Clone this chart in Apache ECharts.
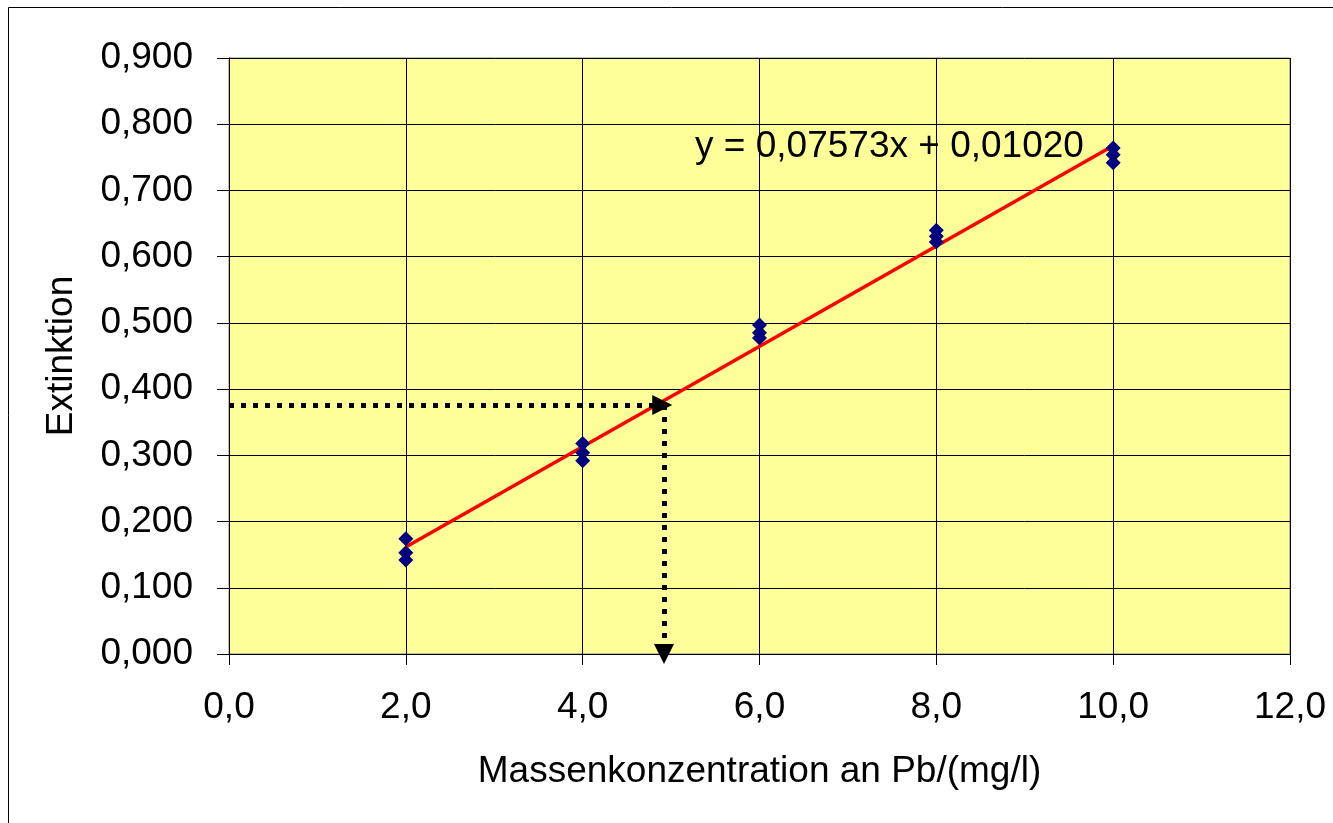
<!DOCTYPE html>
<html>
<head>
<meta charset="utf-8">
<script src="https://cdn.jsdelivr.net/npm/echarts@6/dist/echarts.min.js"></script>
<style>
  html, body { margin: 0; padding: 0; background: #fff; }
  #chart { width: 1333px; height: 823px; }
</style>
</head>
<body>
<div id="chart"></div>
<script>
// measured points (three replicates per concentration)
const concX = [2, 2, 2, 4, 4, 4, 6, 6, 6, 8, 8, 8, 10, 10, 10]
const extY = [0.174, 0.153, 0.142, 0.318, 0.304, 0.292, 0.497, 0.485, 0.477, 0.640, 0.631, 0.622, 0.764, 0.754, 0.742]

// linear trend line y = 0,07573x + 0,01020
const trendX = [2, 10]
const trendY = [0.1617, 0.7675]
const trendLabel = 'y = 0,07573x + 0,01020'

// reading of an unknown sample
const sampleY = 0.376
const sampleX = 4.92

const chart = echarts.init(document.getElementById('chart'))

const fmt = (v, d) => v.toFixed(d).replace('.', ',')
const font = '"Liberation Sans", Arial, sans-serif'
const fs = 37

const option = {
  animation: false,
  textStyle: { fontFamily: font },
  graphic: [{
    type: 'rect',
    shape: { x: 8.5, y: 7.5, width: 1400, height: 900 },
    style: { fill: 'none', stroke: '#000', lineWidth: 1 },
    z: -10
  }],
  grid: {
    left: 229, top: 58, right: 43, bottom: 169,
    show: true,
    backgroundColor: '#FFFF99',
    borderColor: '#808080',
    borderWidth: 1
  },
  xAxis: {
    type: 'value',
    min: 0, max: 12, interval: 2,
    name: 'Massenkonzentration an Pb/(mg/l)',
    nameLocation: 'middle',
    nameGap: 99,
    nameTextStyle: { fontSize: fs, color: '#000', fontFamily: font },
    axisLine: { show: true, onZero: false, lineStyle: { color: '#000', width: 1 } },
    axisTick: { show: true, length: 11, lineStyle: { color: '#000' } },
    axisLabel: { fontSize: fs, color: '#000', margin: 35, formatter: v => fmt(v, 1) },
    splitLine: { show: true, lineStyle: { color: '#000', width: 1 } }
  },
  yAxis: {
    type: 'value',
    min: 0, max: 0.9, interval: 0.1,
    name: 'Extinktion',
    nameLocation: 'middle',
    nameGap: 149,
    nameTextStyle: { fontSize: fs, color: '#000', fontFamily: font },
    axisLine: { show: true, lineStyle: { color: '#000', width: 1 } },
    axisTick: { show: true, length: 12, lineStyle: { color: '#000' } },
    axisLabel: { fontSize: fs, color: '#000', margin: 36, formatter: v => fmt(v, 3) },
    splitLine: { show: true, lineStyle: { color: '#000', width: 1 } }
  },
  series: [
    {
      name: 'Trend',
      type: 'line',
      data: trendX.map((x, i) => [x, trendY[i]]),
      symbol: 'none',
      lineStyle: { color: '#FF0000', width: 3.5 },
      z: 3,
      markLine: {
        silent: true,
        symbol: ['none', 'triangle'],
        symbolSize: [20, 20],
        label: { show: false },
        lineStyle: { color: '#000', width: 5, type: [5, 7] },
        data: [
          [{ coord: [0, sampleY] }, { coord: [sampleX - 0.02, sampleY] }],
          [{ coord: [sampleX, sampleY] }, { coord: [sampleX, 0] }]
        ]
      }
    },
    {
      name: 'Messwerte',
      type: 'scatter',
      data: concX.map((x, i) => [x, extY[i]]),
      symbol: 'diamond',
      symbolSize: 15,
      itemStyle: { color: '#000080', opacity: 1 },
      z: 4
    },
    {
      name: 'Gleichung',
      type: 'scatter',
      data: [[7.47, 0.766]],
      symbolSize: 0,
      itemStyle: { opacity: 1 },
      label: {
        show: true,
        formatter: trendLabel,
        fontSize: fs,
        color: '#000',
        opacity: 1,
        textBorderWidth: 0,
        fontFamily: font,
        position: 'inside'
      },
      z: 5
    }
  ]
}

chart.setOption(option)
</script>
</body>
</html>
